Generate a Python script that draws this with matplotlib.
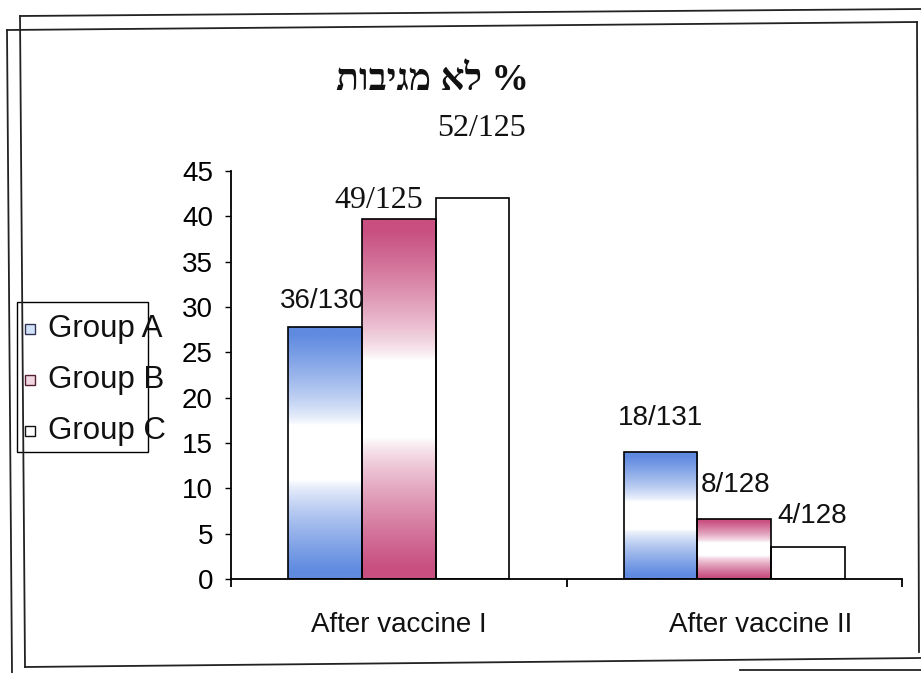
import numpy as np
import matplotlib
matplotlib.use("Agg")
import matplotlib.pyplot as plt
from matplotlib.patches import Rectangle
from matplotlib.lines import Line2D

# ---- data ----
categories = ["After vaccine I", "After vaccine II"]
groups = ["Group A", "Group B", "Group C"]
values_A = [27.8, 14.0]
values_B = [39.7, 6.6]
values_C = [42.0, 3.5]
labels_A = ["36/130", "18/131"]
labels_B = ["49/125", "8/128"]
labels_C = ["52/125", "4/128"]
yticks = [0, 5, 10, 15, 20, 25, 30, 35, 40, 45]
title = "תוביגמ אל %"   # "% לא מגיבות" in visual (left-to-right) order

# ---- style ----
W, H = 921, 673
colors = ["#5f8ae0", "#c84f80", "#ffffff"]
bar_w = 0.22
offsets = [-0.22, 0.0, 0.22]
# label offsets (dx, dy in data units) and font family per label
lab_off_A = [(-0.006, 2.9, "sans"), (0.001, 3.8, "sans")]
lab_off_B = [(-0.059, 2.0, "serif"), (0.005, 3.8, "sans")]
lab_off_C = [(0.028, 7.7, "serif"), (0.012, 3.4, "sans")]
cat_label_dx = [0.0, 0.08]

SANS = ["Liberation Sans", "DejaVu Sans"]
SERIF = ["Liberation Serif", "DejaVu Serif"]
HEB = ["Liberation Serif", "DejaVu Sans"]

fig = plt.figure(figsize=(W / 100, H / 100), dpi=100)
fig.patch.set_facecolor("white")

def fx(x):
    return x / W

def fy(y):
    return 1 - y / H

ax = fig.add_axes([fx(231), fy(579), fx(902) - fx(231), fy(171) - fy(579)])
ax.set_xlim(-0.5, 1.5)
ax.set_ylim(0, 45)
for s in ["top", "right"]:
    ax.spines[s].set_visible(False)
ax.spines["left"].set_linewidth(1.3)
ax.spines["bottom"].set_linewidth(1.3)
ax.set_yticks(yticks)
ax.set_yticklabels([str(v) for v in yticks], family=SANS, fontsize=20)
ax.tick_params(axis="y", direction="out", length=4, width=1.0, pad=9)
ax.set_xticks([-0.5, 0.5, 1.5])
ax.set_xticklabels([])
ax.tick_params(axis="x", direction="out", length=6, width=1.3)
ax.patch.set_alpha(0)


def grad_rgb(color, n=256):
    c = np.array(matplotlib.colors.to_rgb(color))
    t = np.linspace(0, 1, n)
    w = np.clip((np.abs(t - 0.5) - 0.11) / 0.36, 0, 1) ** 0.75
    arr = (1 - w)[:, None] * np.ones(3) + w[:, None] * c
    return arr[:, None, :]

series = [values_A, values_B, values_C]
label_sets = [labels_A, labels_B, labels_C]
lab_offs = [lab_off_A, lab_off_B, lab_off_C]
x = np.arange(len(categories))
for gi, (vals, col, off) in enumerate(zip(series, colors, offsets)):
    bars = ax.bar(x + off, vals, width=bar_w, facecolor="none",
                  edgecolor="black", linewidth=1.2, zorder=3)
    for b in bars:
        x0, y0 = b.get_x(), b.get_y()
        bw, bh = b.get_width(), b.get_height()
        if col != "#ffffff":
            im = ax.imshow(grad_rgb(col), extent=(x0, x0 + bw, y0, y0 + bh),
                           origin="upper", aspect="auto", zorder=2,
                           interpolation="bilinear")
            im.set_clip_path(b)
    for ci, b in enumerate(bars):
        dx, dy, fam = lab_offs[gi][ci]
        fam_list = SANS if fam == "sans" else SERIF
        fs = 20 if fam == "sans" else 23
        ax.text(b.get_x() + b.get_width() / 2 + dx, vals[ci] + dy,
                label_sets[gi][ci], ha="center", va="center",
                family=fam_list, fontsize=fs, color="#111111", zorder=5)

ax.set_xlim(-0.5, 1.5)
ax.set_ylim(0, 45)

# category labels
for i, c in enumerate(categories):
    ax.text(i + cat_label_dx[i], -5.1, c, ha="center", va="center",
            family=SANS, fontsize=20, color="#111111")

# title
fig.text(fx(432), fy(80), title, ha="center", va="center",
         family=HEB, fontsize=27, fontweight="bold", color="#111111")

# legend (manual box)
fig.patches.append(Rectangle((fx(17), fy(452)), fx(148) - fx(17), fy(302) - fy(452),
                             transform=fig.transFigure, facecolor="white",
                             edgecolor="black", linewidth=1.0, zorder=1))
leg_face = ["#d2e2f8", "#efd6e0", "#ffffff"]
leg_edge = ["#333355", "#552233", "#111111"]
for i, g in enumerate(groups):
    yc = 329 + 51 * i
    fig.patches.append(Rectangle((fx(25), fy(yc + 5)), fx(10), 10 / H,
                                 transform=fig.transFigure, facecolor=leg_face[i],
                                 edgecolor=leg_edge[i], linewidth=1.0, zorder=2))
    fig.text(fx(48), fy(yc), g, ha="left", va="center", family=SANS,
             fontsize=22.5, color="#111111", zorder=3)

# scanned page border lines
border = [
    ((20, 16), (921, 9)),
    ((20, 16), (25, 667)),
    ((25, 667), (921, 658)),
    ((7, 30), (917, 22)),
    ((917, 22), (919, 652)),
    ((7, 30), (12, 673)),
    ((740, 670), (921, 670)),
]
for (x1, y1), (x2, y2) in border:
    fig.lines.append(Line2D([fx(x1), fx(x2)], [fy(y1), fy(y2)],
                            transform=fig.transFigure, color="#222222",
                            linewidth=1.3))

fig.savefig("out.png", dpi=100, facecolor="white")
